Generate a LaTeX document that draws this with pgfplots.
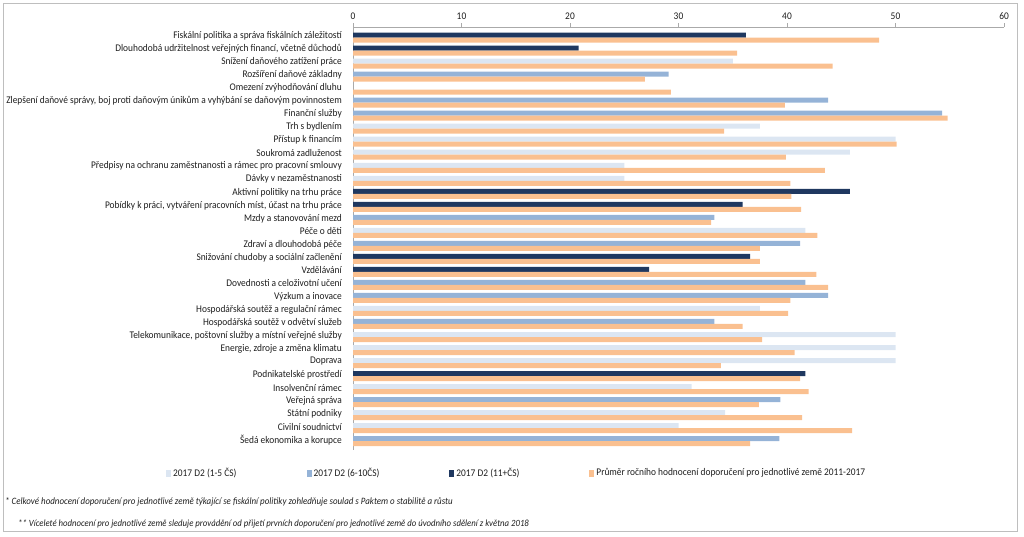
\documentclass[border=0pt]{standalone}
\usepackage{pgfplots}
\pgfplotsset{compat=1.18}
\usepackage{fontspec}
\setmainfont{Carlito}[FakeStretch=0.92]
\definecolor{cLight}{RGB}{220,230,242}
\definecolor{cMed}{RGB}{149,179,215}
\definecolor{cDark}{RGB}{31,56,96}
\definecolor{cOrange}{RGB}{250,192,144}
\definecolor{frameC}{RGB}{190,190,190}
\definecolor{axC}{RGB}{170,170,170}
\definecolor{txtC}{RGB}{30,30,30}
\begin{document}
\begin{tikzpicture}
\path (0pt,0pt) rectangle (1024pt,-536pt);
\draw[frameC, line width=0.8pt] (3pt,-3pt) rectangle (1017pt,-531pt);
\begin{axis}[
  at={(353pt,-27pt)}, anchor=north west,
  scale only axis, width=651pt, height=423pt,
  xmin=0, xmax=60, ymin=0.19, ymax=32.68, y dir=reverse,
  axis x line*=top, axis y line*=left,
  axis line style={axC, line width=0.6pt},
  xbar, bar width=5pt,
  xtick={0,10,...,60},
  x tick style={axC, line width=0.6pt}, major tick length=4pt,
  tick align=outside,
  xticklabel style={font=\fontsize{10.2}{11}\selectfont, text=txtC},
  /pgf/number format/assume math mode=true,
  ytick={1,...,32},
  y tick style={draw=none},
  minor ytick={0.5,1.5,...,32.5},
  minor y tick style={axC, line width=0.6pt},
  minor tick length=4pt,
  yticklabel style={font=\fontsize{10.2}{11}\selectfont, text=txtC, inner sep=0pt, xshift=-7pt, yshift=1.5pt},
  yticklabels={
    Fiskální politika a správa fiskálních záležitostí,
    {Dlouhodobá udržitelnost veřejných financí, včetně důchodů},
    Snížení daňového zatížení práce,
    Rozšíření daňové základny,
    Omezení zvýhodňování dluhu,
    {Zlepšení daňové správy, boj proti daňovým únikům a vyhýbání se daňovým povinnostem},
    Finanční služby,
    Trh s bydlením,
    Přístup k financím,
    Soukromá zadluženost,
    Předpisy na ochranu zaměstnanosti a rámec pro pracovní smlouvy,
    Dávky v nezaměstnanosti,
    Aktivní politiky na trhu práce,
    {Pobídky k práci, vytváření pracovních míst, účast na trhu práce},
    Mzdy a stanovování mezd,
    Péče o děti,
    Zdraví a dlouhodobá péče,
    Snižování chudoby a sociální začlenění,
    Vzdělávání,
    Dovednosti a celoživotní učení,
    Výzkum a inovace,
    Hospodářská soutěž a regulační rámec,
    Hospodářská soutěž v odvětví služeb,
    {Telekomunikace, poštovní služby a místní veřejné služby},
    {Energie, zdroje a změna klimatu},
    Doprava,
    Podnikatelské prostředí,
    Insolvenční rámec,
    Veřejná správa,
    Státní podniky,
    Civilní soudnictví,
    Šedá ekonomika a korupce},
  legend columns=4,
  legend style={draw=none, fill=none, at={(-190pt,-446pt)}, anchor=west,
    font=\fontsize{10.2}{11}\selectfont, text=txtC,
    /tikz/every even column/.append style={column sep=68pt}},
  legend cell align=left,
  legend image code/.code={\fill[#1,/tikz/.cd,draw=none] (0pt,-3.5pt) rectangle (5pt,3.5pt);},
]
\addplot[fill=cLight, draw=none, bar shift=2.5pt] coordinates {
 (35.0,3) (37.5,8) (50.0,9) (45.8,10) (25.0,11) (25.0,12) (41.7,16)
 (37.5,22) (50.0,24) (50.0,25) (50.0,26) (31.2,28) (34.3,30) (30.0,31)};
\addplot[fill=cMed, draw=none, bar shift=2.5pt] coordinates {
 (29.1,4) (43.8,6) (54.3,7) (33.3,15) (41.2,17) (41.7,20) (43.8,21)
 (33.3,23) (39.4,29) (39.3,32)};
\addplot[fill=cDark, draw=none, bar shift=2.5pt] coordinates {
 (36.2,1) (20.8,2) (45.8,13) (35.9,14) (36.6,18) (27.3,19) (41.7,27)};
\addplot[fill=cOrange, draw=none, bar shift=-2.5pt] coordinates {
 (48.5,1) (35.4,2) (44.2,3) (26.9,4) (29.3,5) (39.8,6) (54.8,7) (34.2,8)
 (50.1,9) (39.9,10) (43.5,11) (40.3,12) (40.4,13) (41.3,14) (33.0,15) (42.8,16)
 (37.5,17) (37.5,18) (42.7,19) (43.8,20) (40.3,21) (40.1,22) (35.9,23) (37.7,24)
 (40.7,25) (33.9,26) (41.2,27) (42.0,28) (37.4,29) (41.4,30) (46.0,31) (36.6,32)};
\legend{2017 D2 (1-5 ČS), 2017 D2 (6-10ČS), 2017 D2 (11+ČS), Průměr ročního hodnocení doporučení pro jednotlivé země 2011-2017}
\end{axis}
\node[anchor=west, inner sep=0pt, font=\fontsize{9.7}{11}\selectfont\itshape, text=txtC] at (5pt,-502pt)
  {* Celkové hodnocení doporučení pro jednotlivé země týkající se fiskální politiky zohledňuje soulad s Paktem o stabilitě a růstu};
\node[anchor=west, inner sep=0pt, font=\fontsize{9.5}{11}\selectfont\itshape, text=txtC] at (18pt,-524pt)
  {** Víceleté hodnocení pro jednotlivé země sleduje provádění od přijetí prvních doporučení pro jednotlivé země do úvodního sdělení z května 2018};
\end{tikzpicture}
\end{document}
